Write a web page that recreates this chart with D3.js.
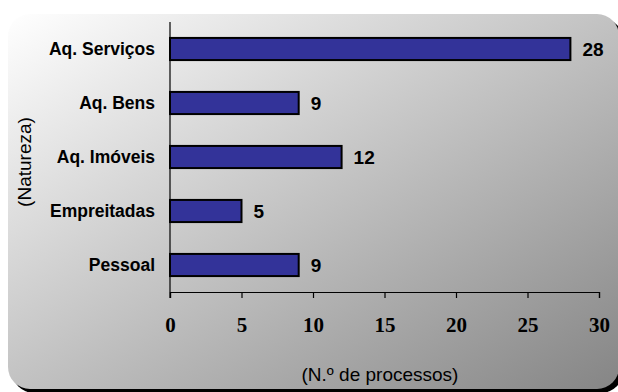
<!DOCTYPE html>
<html>
<head>
<meta charset="utf-8">
<script src="https://cdn.jsdelivr.net/npm/d3@7"></script>
<style>
  body { margin: 0; background: #fff; }
  svg { display: block; }
</style>
</head>
<body>
<svg id="chart" width="618" height="392"></svg>
<script>
const categories = ["Aq. Serviços", "Aq. Bens", "Aq. Imóveis", "Empreitadas", "Pessoal"];
const values = [28, 9, 12, 5, 9];
const xTicks = [0, 5, 10, 15, 20, 25, 30];

const width = 618, height = 392;
const margin = { top: 22, right: 19, bottom: 100, left: 170 };

const svg = d3.select("#chart");

// background panel with gradient + shadow
const defs = svg.append("defs");
const grad = defs.append("linearGradient")
    .attr("id", "bg")
    .attr("x1", "0").attr("y1", "0")
    .attr("x2", "1").attr("y2", "1");
grad.append("stop").attr("offset", "0%").attr("stop-color", "#ffffff");
grad.append("stop").attr("offset", "100%").attr("stop-color", "#858585");

svg.append("rect")
    .attr("x", 12).attr("y", 18)
    .attr("width", 611).attr("height", 375)
    .attr("rx", 22)
    .attr("fill", "#000");

svg.append("rect")
    .attr("x", 8).attr("y", 14)
    .attr("width", 611).attr("height", 375)
    .attr("rx", 22)
    .attr("fill", "url(#bg)");

const x = d3.scaleLinear()
    .domain([0, 30])
    .range([margin.left, width - margin.right]);

const y = d3.scaleBand()
    .domain(categories)
    .range([margin.top, height - margin.bottom])
    .paddingInner(0.59)
    .paddingOuter(0.295);

const g = svg.append("g");

// bars
g.append("g")
    .selectAll("rect")
    .data(values)
    .join("rect")
    .attr("x", x(0))
    .attr("y", (d, i) => y(categories[i]))
    .attr("width", d => x(d) - x(0))
    .attr("height", y.bandwidth())
    .attr("fill", "#333399")
    .attr("stroke", "#000")
    .attr("stroke-width", 2);

// value labels
g.append("g")
    .selectAll("text")
    .data(values)
    .join("text")
    .attr("x", d => x(d) + 12)
    .attr("y", (d, i) => y(categories[i]) + y.bandwidth() / 2)
    .attr("dy", "0.36em")
    .attr("font-family", "Arial, 'Liberation Sans', sans-serif")
    .attr("font-weight", "bold")
    .attr("font-size", 19)
    .text(d => d);

// x axis
const xAxis = svg.append("g")
    .attr("transform", `translate(0,${height - margin.bottom})`)
    .call(d3.axisBottom(x).tickValues(xTicks).tickSize(6).tickSizeOuter(6));
xAxis.select(".domain").attr("stroke", "#000").attr("stroke-width", 1.2);
xAxis.selectAll(".tick line").attr("stroke", "#000").attr("stroke-width", 1.2);
xAxis.selectAll("text")
    .attr("y", 40)
    .attr("dy", 0)
    .attr("font-family", "'Times New Roman', 'Liberation Serif', serif")
    .attr("font-weight", "bold")
    .attr("font-size", 21)
    .attr("fill", "#000");

// y axis
const yAxis = svg.append("g")
    .attr("transform", `translate(${margin.left},0)`)
    .call(d3.axisLeft(y).tickSize(0).tickPadding(15));
yAxis.select(".domain").remove();
yAxis.selectAll("text")
    .attr("font-family", "Arial, 'Liberation Sans', sans-serif")
    .attr("font-weight", "bold")
    .attr("font-size", 17.5)
    .attr("fill", "#000");

svg.append("line")
    .attr("x1", x(0)).attr("x2", x(0))
    .attr("y1", margin.top).attr("y2", height - margin.bottom + 6)
    .attr("stroke", "#000")
    .attr("stroke-width", 1.2);

// axis titles
svg.append("text")
    .attr("x", 380)
    .attr("y", 381)
    .attr("text-anchor", "middle")
    .attr("font-family", "Arial, 'Liberation Sans', sans-serif")
    .attr("font-size", 19)
    .text("(N.º de processos)");

svg.append("text")
    .attr("transform", `translate(31,162) rotate(-90)`)
    .attr("text-anchor", "middle")
    .attr("font-family", "Arial, 'Liberation Sans', sans-serif")
    .attr("font-size", 19)
    .text("(Natureza)");
</script>
</body>
</html>
